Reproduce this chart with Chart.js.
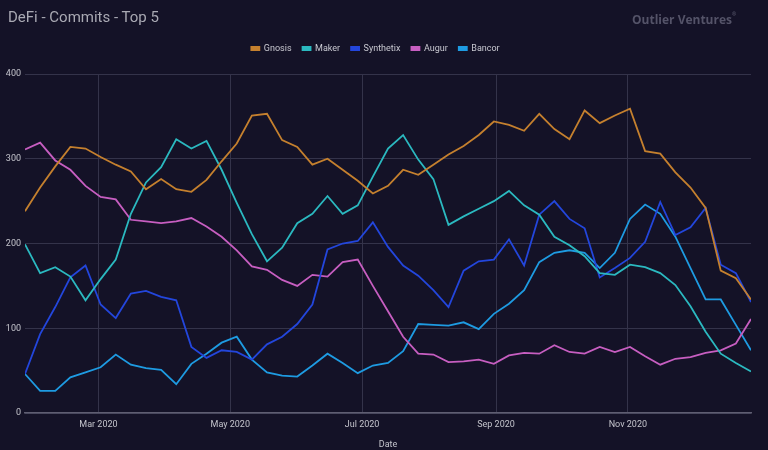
<!DOCTYPE html>
<html><head><meta charset="utf-8">
<script src="https://cdn.jsdelivr.net/npm/chart.js@4/dist/chart.umd.min.js"></script>
<style>
html,body{margin:0;padding:0;background:#141227;}
#wrap{position:relative;width:768px;height:450px;background:#141227;}
#title{position:absolute;left:8px;top:8px;font:15px Roboto, sans-serif;color:#a9a9b3;white-space:nowrap;}
#brand{position:absolute;left:632px;top:11px;font:bold 12px "Open Sans", sans-serif;color:#545368;white-space:nowrap;}
#brand sup{font-size:5px;vertical-align:top;}
canvas{position:absolute;left:0;top:0;}
</style></head>
<body><div id="wrap"><canvas id="c" width="768" height="450"></canvas><div id="title">DeFi - Commits - Top 5</div><div id="brand">Outlier Ventures<sup>®</sup></div></div>
<script>
const weeks = ["2020-01-27","2020-02-03","2020-02-10","2020-02-17","2020-02-24","2020-03-02","2020-03-09","2020-03-16","2020-03-23","2020-03-30","2020-04-06","2020-04-13","2020-04-20","2020-04-27","2020-05-04","2020-05-11","2020-05-18","2020-05-25","2020-06-01","2020-06-08","2020-06-15","2020-06-22","2020-06-29","2020-07-06","2020-07-13","2020-07-20","2020-07-27","2020-08-03","2020-08-10","2020-08-17","2020-08-24","2020-08-31","2020-09-07","2020-09-14","2020-09-21","2020-09-28","2020-10-05","2020-10-12","2020-10-19","2020-10-26","2020-11-02","2020-11-09","2020-11-16","2020-11-23","2020-11-30","2020-12-07","2020-12-14","2020-12-21","2020-12-28"];
const gnosis = [238,266,291,314,312,302,293,285,264,276,264,261,275,297,318,351,353,322,314,293,300,287,274,259,268,287,281,293,305,315,328,344,340,333,353,335,323,357,342,351,359,309,306,284,266,242,168,159,134];
const maker = [199,165,172,161,133,158,181,235,272,290,323,312,321,287,248,211,179,195,224,235,256,235,245,279,312,328,299,276,222,232,241,250,262,245,234,208,198,185,165,163,175,172,165,151,126,96,70,59,49];
const synthetix = [46,93,125,160,174,128,112,141,144,137,133,78,65,74,72,63,81,90,105,128,193,200,203,225,196,174,162,145,125,168,179,181,205,174,234,250,229,218,160,171,183,202,249,210,219,242,175,165,131];
const augur = [311,319,298,287,268,255,252,228,226,224,226,230,220,208,192,173,169,157,150,163,161,178,181,150,120,90,70,69,60,61,63,58,68,71,70,80,72,70,78,72,78,67,57,64,66,71,74,82,111];
const bancor = [46,26,26,42,48,54,69,57,53,51,34,58,70,83,90,63,48,44,43,56,70,59,47,56,59,73,105,104,103,107,99,117,129,145,178,189,192,189,171,189,229,246,235,208,171,134,134,104,74];
const seriesNames = ["Gnosis","Maker","Synthetix","Augur","Bancor"];
const tickDates = ["2020-03-01","2020-05-01","2020-07-01","2020-09-01","2020-11-01"];
const tickLabels = ["Mar 2020","May 2020","Jul 2020","Sep 2020","Nov 2020"];
const yTicks = [0,100,200,300,400];

const colors = ["#c5802e","#2bb9c0","#2346dc","#c75ec1","#1e9be2"];
const toDay = s => (Date.UTC(+s.slice(0,4), +s.slice(5,7)-1, +s.slice(8,10)) - Date.UTC(2020,0,1)) / 86400000;
const allValues = [gnosis, maker, synthetix, augur, bancor];

const datasets = seriesNames.map((name, k) => ({
  label: name,
  data: weeks.map((d, i) => ({x: toDay(d), y: allValues[k][i]})),
  borderColor: colors[k],
  backgroundColor: colors[k],
  borderWidth: 1.8,
  pointRadius: 0,
  tension: 0
}));

const tickColor = '#c4c4cc';
const gridColor = '#34334a';

const legendSpace = {
  id: 'legendSpace',
  beforeInit(chart) {
    const lg = chart.legend;
    if (!lg) return;
    const fit = lg.fit;
    lg.fit = function () { fit.call(this); this.height += 11; };
  }
};

new Chart(document.getElementById('c'), {
  type: 'line',
  data: { datasets },
  plugins: [legendSpace],
  options: {
    responsive: false,
    animation: false,
    layout: { padding: { top: 33, right: 17, left: 0, bottom: 0 } },
    plugins: {
      legend: {
        position: 'top',
        labels: { boxWidth: 8, boxHeight: 3, color: '#c8c8d0', font: { size: 9, family: 'Roboto' }, padding: 11 }
      },
      tooltip: { enabled: false }
    },
    scales: {
      x: {
        type: 'linear',
        min: toDay(weeks[0]),
        max: toDay(weeks[weeks.length - 1]),
        afterBuildTicks: s => { s.ticks = tickDates.map(d => ({ value: toDay(d) })); },
        ticks: { autoSkip: false, maxRotation: 0, color: tickColor, font: { size: 9, family: 'Roboto' }, padding: 6,
                 callback: (v, i) => tickLabels[i] },
        grid: { color: gridColor, drawTicks: false },
        border: { color: '#5f5e72', width: 1.5 },
        title: { display: true, text: 'Date', color: tickColor, font: { size: 9, family: 'Roboto' }, padding: { top: 10, bottom: 0 } },
        afterFit: s => { s.height = 37; }
      },
      y: {
        min: 0, max: 400,
        afterBuildTicks: s => { s.ticks = yTicks.map(v => ({ value: v })); },
        ticks: { color: tickColor, font: { size: 9, family: 'Roboto' }, padding: 4 },
        grid: { color: gridColor, drawTicks: false },
        border: { display: false },
        afterFit: s => { s.width = 25; }
      }
    }
  }
});
</script>
</body></html>
